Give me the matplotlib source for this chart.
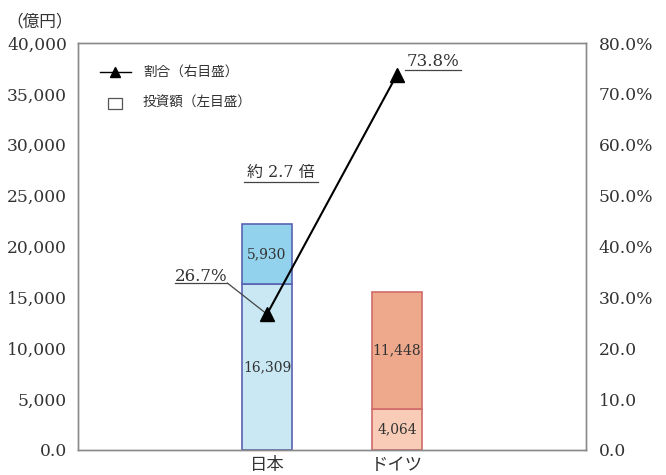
import matplotlib
matplotlib.use("Agg")
import matplotlib.pyplot as plt
from matplotlib.lines import Line2D
from matplotlib.patches import Rectangle

countries = ["日本", "ドイツ"]
invest_lower = [16309, 4064]
invest_upper = [5930, 11448]
share = [26.7, 73.8]
left_ticks = [0, 5000, 10000, 15000, 20000, 25000, 30000, 35000, 40000]
left_labels = ["0.0", "5,000", "10,000", "15,000", "20,000", "25,000", "30,000", "35,000", "40,000"]
right_ticks = [0, 10, 20, 30, 40, 50, 60, 70, 80]
right_labels = ["0.0", "10.0", "20.0", "30.0%", "40.0%", "50.0%", "60.0%", "70.0%", "80.0%"]

FONT = ["DejaVu Serif", "Noto Sans CJK JP"]
plt.rcParams["font.family"] = FONT
TXT = "#333333"
FRAME = "#8a8a8a"

W, H = 666, 475
fig = plt.figure(figsize=(W / 100, H / 100), dpi=100)
ax = fig.add_axes([78 / W, 1 - 450 / H, 508 / W, 407 / H])
ax2 = ax.twinx()

x = list(range(len(countries)))
lower_colors = ["#c9e8f3", "#f8ccb6"]
upper_colors = ["#92d2ec", "#eea98c"]
edges = ["#5a62b2", "#cf6b68"]
ax.bar(x, invest_lower, width=0.39, color=lower_colors, edgecolor=edges, linewidth=1.2, zorder=2)
ax.bar(x, invest_upper, width=0.39, bottom=invest_lower, color=upper_colors,
       edgecolor=edges, linewidth=1.2, zorder=2)

for i in x:
    ax.text(i, invest_lower[i] / 2, f"{invest_lower[i]:,}", ha="center", va="center",
            fontsize=10, color=TXT, zorder=3)
    ax.text(i, invest_lower[i] + invest_upper[i] / 2, f"{invest_upper[i]:,}", ha="center",
            va="center", fontsize=10, color=TXT, zorder=3)

ax.set_xlim(-1.454, 2.454)
ax.set_ylim(0, 40000)
ax.set_yticks(left_ticks)
ax.set_yticklabels(left_labels)
ax.set_xticks(x)
ax.set_xticklabels(countries, fontsize=12.5)
ax.tick_params(axis="y", length=0, pad=8, labelsize=12.3, labelcolor=TXT)
ax.tick_params(axis="x", length=0, pad=5, labelcolor=TXT)

ax2.set_ylim(0, 80)
ax2.set_yticks(right_ticks)
ax2.set_yticklabels(right_labels)
ax2.tick_params(axis="y", length=0, pad=9, labelsize=12.3, labelcolor=TXT)

for a in (ax, ax2):
    for s in a.spines.values():
        s.set_color(FRAME)
        s.set_linewidth(1.0)

# ratio line on the right-hand scale
ax2.plot(x, share, color="black", linewidth=1.5, marker="^", markersize=10, zorder=4)

# 26.7% label with leader
ax2.text(-0.711, 34.2, f"{share[0]}%", ha="left", va="center", fontsize=12, color=TXT)
ax2.plot([-0.711, -0.304], [32.8, 32.8], color="#444444", linewidth=0.9)
ax2.plot([-0.304, 0], [32.8, share[0]], color="#444444", linewidth=0.9)

# 73.8% label
ax2.text(1.073, 76.4, f"{share[1]}%", ha="left", va="center", fontsize=12, color=TXT)
ax2.plot([1.065, 1.49], [74.7, 74.7], color="#444444", linewidth=0.9)

# ratio between the two
ax2.text(0.108, 54.5, "約 2.7 倍", ha="center", va="center", fontsize=11.5, color=TXT,
         family=FONT)
ax2.plot([-0.18, 0.396], [52.7, 52.7], color="#444444", linewidth=0.9)

# legend
def px(xp, yp):
    return xp / W, 1 - yp / H

fig.add_artist(Line2D([px(100, 0)[0], px(131, 0)[0]], [px(0, 72)[1]] * 2,
                      color="black", linewidth=1.0))
fig.add_artist(Line2D([px(115, 0)[0]], [px(0, 72)[1]], marker="^", markersize=7,
                      color="black", linestyle="none"))
x0, y0 = px(108, 109)
fig.add_artist(Rectangle((x0, y0), 14 / W, 11 / H, transform=fig.transFigure,
                         facecolor="white", edgecolor="#555555", linewidth=0.9))
fig.text(*px(143, 72), "割合（右目盛）", ha="left", va="center", fontsize=9.8, color=TXT)
fig.text(*px(143, 103), "投資額（左目盛）", ha="left", va="center", fontsize=9.8, color=TXT)

fig.text(*px(6, 22), "（億円）", ha="left", va="center", fontsize=12, color=TXT)

fig.savefig("out.png", dpi=100)
